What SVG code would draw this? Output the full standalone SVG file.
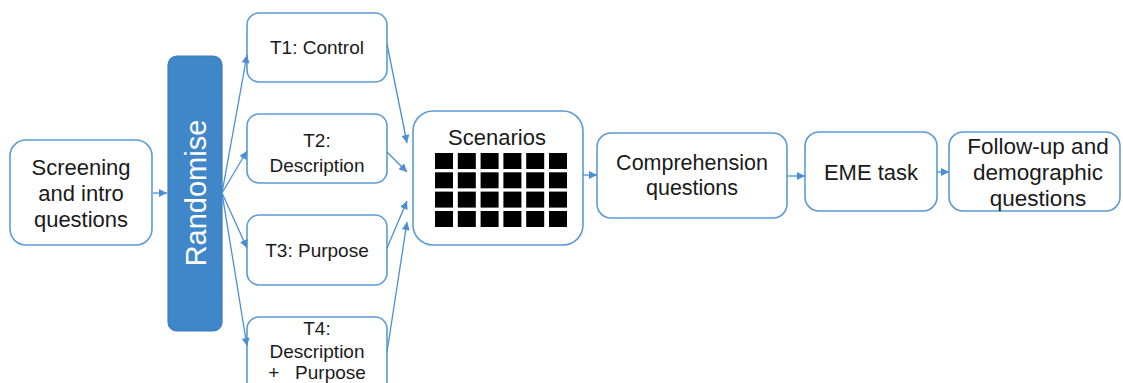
<svg xmlns="http://www.w3.org/2000/svg" xmlns:xlink="http://www.w3.org/1999/xlink" width="1123" height="383" viewBox="0 0 1123 383">
<style>
.box{fill:#fff;stroke:#5b9bd5;stroke-width:1.6}
.lbl{font-family:"Liberation Sans",Arial,sans-serif;fill:#1a1a1a;text-anchor:middle}
.conn line{stroke:#4a8fd4;stroke-width:1.3;marker-end:url(#ah)}
.sq{fill:#000}
</style>
<defs>
<marker id="ah" viewBox="0 0 10 10" refX="10" refY="5" markerWidth="10" markerHeight="8" markerUnits="userSpaceOnUse" orient="auto">
<path d="M0,0 L10,5 L0,10 z" fill="#4a8fd4"/>
</marker>
<rect id="s" width="18" height="16" class="sq"/>
</defs>
<rect width="1123" height="383" fill="#fff"/>

<g id="screening">
<rect class="box" x="10" y="140" width="142" height="105" rx="16"/>
<text class="lbl" font-size="22" x="81" y="175">Screening</text>
<text class="lbl" font-size="22" x="81" y="201">and intro</text>
<text class="lbl" font-size="22" x="81" y="227">questions</text>
</g>

<g id="randomise">
<rect x="168" y="56" width="54" height="275" rx="9" fill="#3f87c8" stroke="#3a7cbc" stroke-width="1.2"/>
<text font-family="'Liberation Sans',Arial,sans-serif" font-size="29" fill="#fff" text-anchor="middle" transform="translate(206,193) rotate(-90)">Randomise</text>
</g>

<g id="t1">
<rect class="box" x="247" y="13" width="140" height="69" rx="12"/>
<text class="lbl" font-size="19" x="317" y="54">T1: Control</text>
</g>
<g id="t2">
<rect class="box" x="247" y="114" width="140" height="69" rx="12"/>
<text class="lbl" font-size="19" x="317" y="147">T2:</text>
<text class="lbl" font-size="19" x="317" y="172">Description</text>
</g>
<g id="t3">
<rect class="box" x="247" y="215" width="140" height="70" rx="12"/>
<text class="lbl" font-size="19" x="317" y="257">T3: Purpose</text>
</g>
<g id="t4">
<rect class="box" x="247" y="317" width="140" height="90" rx="12"/>
<text class="lbl" font-size="19" x="317" y="335">T4:</text>
<text class="lbl" font-size="19" x="317" y="358">Description</text>
<text class="lbl" font-size="19" x="317" y="379" xml:space="preserve">+   Purpose</text>
</g>

<g id="scenarios">
<rect class="box" x="413" y="111" width="170" height="134" rx="20"/>
<text class="lbl" font-size="22" x="497" y="145">Scenarios</text>
<use xlink:href="#s" x="435" y="153"/><use xlink:href="#s" x="457.8" y="153"/><use xlink:href="#s" x="480.6" y="153"/><use xlink:href="#s" x="503.4" y="153"/><use xlink:href="#s" x="526.2" y="153"/><use xlink:href="#s" x="549" y="153"/>
<use xlink:href="#s" x="435" y="172.3"/><use xlink:href="#s" x="457.8" y="172.3"/><use xlink:href="#s" x="480.6" y="172.3"/><use xlink:href="#s" x="503.4" y="172.3"/><use xlink:href="#s" x="526.2" y="172.3"/><use xlink:href="#s" x="549" y="172.3"/>
<use xlink:href="#s" x="435" y="191.6"/><use xlink:href="#s" x="457.8" y="191.6"/><use xlink:href="#s" x="480.6" y="191.6"/><use xlink:href="#s" x="503.4" y="191.6"/><use xlink:href="#s" x="526.2" y="191.6"/><use xlink:href="#s" x="549" y="191.6"/>
<use xlink:href="#s" x="435" y="211"/><use xlink:href="#s" x="457.8" y="211"/><use xlink:href="#s" x="480.6" y="211"/><use xlink:href="#s" x="503.4" y="211"/><use xlink:href="#s" x="526.2" y="211"/><use xlink:href="#s" x="549" y="211"/>
</g>

<g id="comprehension">
<rect class="box" x="597" y="133" width="190" height="85" rx="14"/>
<text class="lbl" font-size="21.5" x="692" y="170">Comprehension</text>
<text class="lbl" font-size="21.5" x="692" y="195">questions</text>
</g>

<g id="eme">
<rect class="box" x="805" y="132" width="132" height="79" rx="14"/>
<text class="lbl" font-size="22" x="871" y="180">EME task</text>
</g>

<g id="followup">
<rect class="box" x="949" y="132" width="171" height="79" rx="14"/>
<text class="lbl" font-size="22.5" x="1038" y="154">Follow-up and</text>
<text class="lbl" font-size="22.5" x="1038" y="180">demographic</text>
<text class="lbl" font-size="22.5" x="1038" y="206">questions</text>
</g>

<g id="connectors" class="conn">
<line x1="153" y1="193" x2="167" y2="193"/>
<line x1="222" y1="193" x2="247" y2="55"/>
<line x1="222" y1="193" x2="247" y2="151"/>
<line x1="222" y1="193" x2="247" y2="248"/>
<line x1="222" y1="193" x2="247" y2="346"/>
<line x1="387" y1="44" x2="407" y2="143"/>
<line x1="387" y1="152" x2="407" y2="172"/>
<line x1="387" y1="248" x2="407" y2="201"/>
<line x1="387" y1="352" x2="407" y2="222"/>
<line x1="583" y1="175" x2="597" y2="175"/>
<line x1="787" y1="176" x2="805" y2="176"/>
<line x1="937" y1="172" x2="949" y2="172"/>
</g>
</svg>
